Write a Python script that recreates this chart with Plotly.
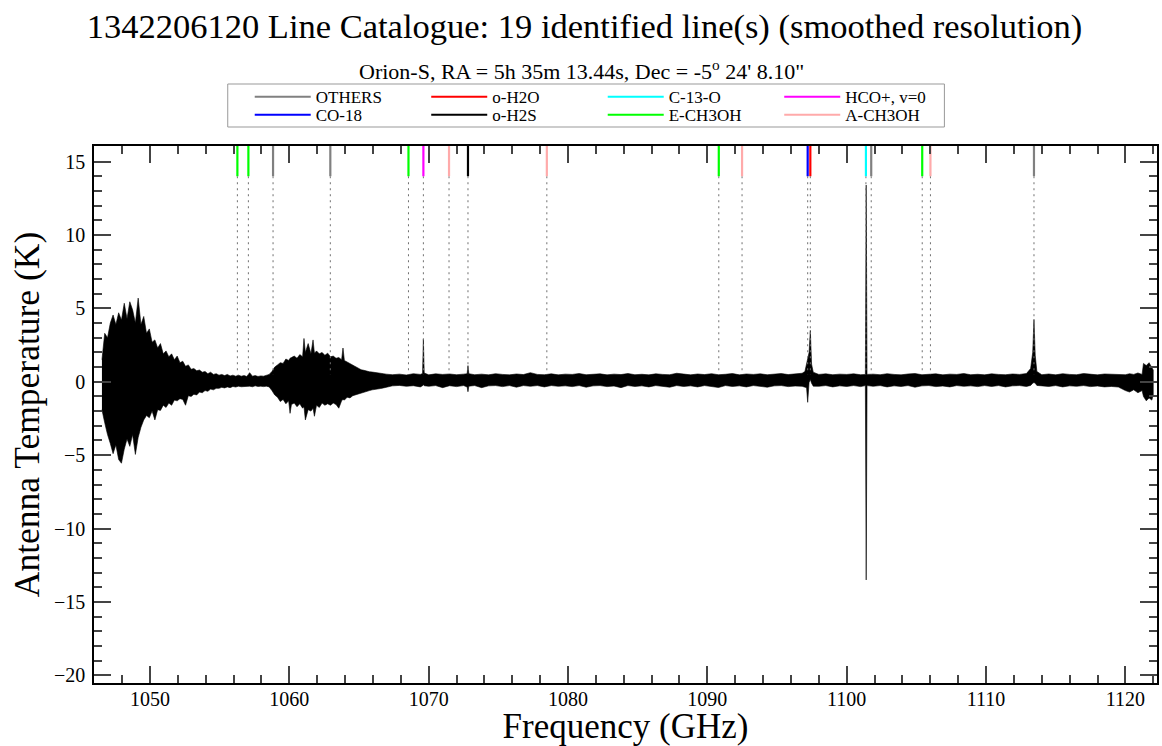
import plotly.graph_objects as go

FONT = "Liberation Serif"

# ---------------- spectrum (envelope of the smoothed spectrum, K) ----------------
freq_ghz = [
    1046.55, 1046.75, 1046.95, 1047.15, 1047.35, 1047.55, 1047.75, 1047.95, 1048.15, 1048.35,
    1048.55, 1048.75, 1048.95, 1049.15, 1049.35, 1049.55, 1049.75, 1049.95, 1050.15, 1050.35,
    1050.55, 1050.75, 1050.95, 1051.15, 1051.35, 1051.55, 1051.75, 1051.95, 1052.15, 1052.35,
    1052.55, 1052.75, 1052.95, 1053.15, 1053.35, 1053.55, 1053.75, 1053.95, 1054.15, 1054.35,
    1054.55, 1054.75, 1054.95, 1055.15, 1055.35, 1055.55, 1055.75, 1055.95, 1056.15, 1056.35,
    1056.55, 1056.75, 1056.95, 1057.15, 1057.35, 1057.55, 1057.75, 1057.95, 1058.15, 1058.35,
    1058.55,
    1058.75, 1058.95, 1059.15, 1059.35, 1059.55, 1059.75, 1059.95, 1060.05, 1060.15, 1060.35,
    1060.55, 1060.75, 1060.95, 1061.05, 1061.15, 1061.35, 1061.55, 1061.70, 1061.80, 1061.95,
    1062.15, 1062.35, 1062.55, 1062.75, 1062.95, 1063.15, 1063.35, 1063.55, 1063.75, 1063.85,
    1063.95, 1064.15, 1064.35, 1064.55, 1064.75, 1064.95, 1065.15, 1065.35, 1065.55, 1065.75,
    1065.95, 1066.15, 1066.35, 1066.55, 1066.75, 1066.95, 1067.15,
    1067.40, 1067.90, 1068.40, 1068.90, 1069.40, 1069.56, 1069.62, 1069.68, 1070.00, 1070.50,
    1071.00, 1071.50, 1072.00, 1072.50, 1072.76, 1072.82, 1072.88,
    1073.30, 1073.80, 1074.30, 1074.80, 1075.30, 1075.80, 1076.30, 1076.80, 1077.30, 1077.80,
    1078.30, 1078.80, 1079.30, 1079.80, 1080.30, 1080.80, 1081.30, 1081.80, 1082.30, 1082.80,
    1083.30, 1083.80, 1084.30, 1084.80, 1085.30, 1085.80, 1086.30, 1086.80, 1087.30, 1087.80,
    1088.30, 1088.80, 1089.30, 1089.80, 1090.30, 1090.80, 1091.30, 1091.80, 1092.30, 1092.80,
    1093.30, 1093.80, 1094.30, 1094.80, 1095.30, 1095.80, 1096.30, 1096.80,
    1097.00, 1097.12, 1097.20, 1097.30, 1097.39, 1097.48, 1097.60,
    1098.00, 1098.50, 1099.00, 1099.50, 1100.00, 1100.50, 1101.00, 1101.34, 1101.40, 1101.46,
    1101.90, 1102.40, 1102.90, 1103.40, 1103.90, 1104.40, 1104.90, 1105.40, 1105.90, 1106.40,
    1106.90, 1107.40, 1107.90, 1108.40, 1108.90, 1109.40, 1109.90, 1110.40, 1110.90, 1111.40,
    1111.90, 1112.40, 1112.90,
    1113.20, 1113.35, 1113.44, 1113.53, 1113.65,
    1114.00, 1114.50, 1115.00, 1115.50, 1116.00, 1116.50, 1117.00, 1117.50, 1118.00, 1118.50,
    1119.00, 1119.50, 1120.00, 1120.30, 1120.60, 1120.90, 1121.20, 1121.30, 1121.50, 1121.70,
    1121.90, 1122.00,
]

t_upper = [
    1.50, 3.30, 3.00, 4.00, 4.55, 3.90, 4.70, 4.20, 5.35, 4.30,
    5.45, 4.90, 4.00, 5.70, 3.90, 4.45, 3.30, 3.60, 2.70, 2.85,
    2.30, 2.60, 1.90, 2.10, 1.70, 1.90, 1.50, 1.75, 1.30, 1.40,
    1.05, 1.15, 0.85, 0.90, 0.75, 0.80, 0.65, 0.70, 0.55, 0.65,
    0.50, 0.55, 0.45, 0.50, 0.42, 0.50, 0.40, 0.45, 0.38, 0.45,
    0.38, 0.42, 0.36, 0.62, 0.38, 0.42, 0.36, 0.40, 0.38, 0.42,
    0.50,
    0.70, 1.00, 1.15, 1.30, 1.25, 1.55, 1.45, 1.60, 1.65, 1.75,
    1.60, 1.85, 1.70, 2.95, 2.00, 2.60, 1.90, 2.85, 1.95, 2.10,
    1.90, 2.00, 1.80, 1.95, 1.70, 1.75, 1.60, 1.65, 1.50, 2.30,
    1.45, 1.35, 1.25, 1.10, 1.00, 0.90, 0.82, 0.78, 0.72, 0.68,
    0.66, 0.62, 0.60, 0.58, 0.55, 0.52, 0.50,
    0.48, 0.52, 0.46, 0.55, 0.50, 0.56, 2.90, 0.60, 0.47, 0.54,
    0.50, 0.53, 0.48, 0.52, 0.55, 1.10, 0.55,
    0.48, 0.52, 0.47, 0.55, 0.50, 0.47, 0.53, 0.49, 0.62, 0.50,
    0.48, 0.54, 0.47, 0.52, 0.50, 0.56, 0.48, 0.51, 0.54, 0.47,
    0.52, 0.49, 0.56, 0.48, 0.51, 0.47, 0.54, 0.50, 0.48, 0.58,
    0.50, 0.47, 0.53, 0.49, 0.55, 0.48, 0.51, 0.56, 0.47, 0.53,
    0.50, 0.54, 0.48, 0.52, 0.56, 0.49, 0.53, 0.58,
    0.70, 1.20, 1.50, 2.00, 3.50, 1.20, 0.65,
    0.50, 0.54, 0.48, 0.52, 0.50, 0.54, 0.48, 0.50, 13.40, 0.50,
    0.52, 0.48, 0.55, 0.50, 0.47, 0.53, 0.56, 0.48, 0.51, 0.54,
    0.47, 0.52, 0.50, 0.56, 0.48, 0.51, 0.47, 0.54, 0.50, 0.48,
    0.53, 0.50, 0.56,
    0.90, 2.00, 4.25, 1.80, 0.70,
    0.48, 0.53, 0.47, 0.55, 0.50, 0.48, 0.56, 0.51, 0.47, 0.53,
    0.50, 0.47, 0.48, 0.55, 0.50, 0.60, 0.50, 1.25, 1.10, 1.30,
    1.00, 0.80,
]

t_lower = [
    -1.90, -2.80, -3.60, -4.20, -4.90, -4.30, -5.30, -5.55, -4.60, -3.90,
    -4.40, -3.60, -4.95, -3.80, -3.10, -2.60, -2.30, -2.45, -2.00, -2.60,
    -1.90, -1.95, -1.60, -1.75, -1.45, -1.60, -1.25, -1.30, -1.15, -1.20,
    -1.60, -0.95, -1.00, -0.85, -0.90, -0.70, -0.75, -0.60, -0.65, -0.50,
    -0.55, -0.45, -0.45, -0.38, -0.42, -0.35, -0.40, -0.32, -0.36, -0.30,
    -0.34, -0.30, -0.32, -0.30, -0.34, -0.28, -0.32, -0.30, -0.33, -0.30,
    -0.35,
    -0.60, -0.90, -1.05, -1.35, -1.20, -1.50, -1.30, -2.15, -1.55, -1.45,
    -1.70, -1.50, -1.80, -1.70, -2.60, -1.90, -2.00, -1.80, -2.35, -1.60,
    -1.75, -1.45, -1.60, -1.50, -1.60, -1.45, -1.55, -1.80, -1.30, -1.20,
    -1.25, -1.05, -1.10, -0.95, -0.90, -0.85, -0.78, -0.70, -0.65, -0.60,
    -0.55, -0.50, -0.48, -0.46, -0.42, -0.38, -0.35,
    -0.28, -0.25, -0.31, -0.27, -0.35, -0.27, -0.20, -0.27, -0.31, -0.26,
    -0.40, -0.27, -0.33, -0.26, -0.35, -0.68, -0.30,
    -0.26, -0.40, -0.28, -0.26, -0.33, -0.26, -0.37, -0.26, -0.31, -0.26,
    -0.35, -0.26, -0.31, -0.28, -0.33, -0.26, -0.37, -0.28, -0.26, -0.33,
    -0.29, -0.40, -0.26, -0.32, -0.28, -0.35, -0.26, -0.31, -0.37, -0.26,
    -0.32, -0.28, -0.35, -0.26, -0.31, -0.39, -0.26, -0.32, -0.28, -0.35,
    -0.26, -0.31, -0.37, -0.28, -0.26, -0.33, -0.29, -0.31,
    -0.35, -0.40, -1.40, -0.05, 0.15, -0.10, -0.30,
    -0.31, -0.26, -0.35, -0.28, -0.32, -0.26, -0.33, -0.26, -13.50, -0.26,
    -0.31, -0.26, -0.35, -0.28, -0.32, -0.26, -0.37, -0.28, -0.26, -0.33,
    -0.29, -0.35, -0.26, -0.31, -0.28, -0.33, -0.26, -0.32, -0.26, -0.35,
    -0.28, -0.26, -0.32,
    -0.25, -0.10, -0.05, -0.10, -0.25,
    -0.26, -0.32, -0.26, -0.35, -0.28, -0.31, -0.26, -0.33, -0.29, -0.35,
    -0.32, -0.36, -0.60, -0.70, -0.55, -0.75, -0.60, -1.00, -1.30, -1.10,
    -1.25, -0.90,
]

assert len(freq_ghz) == len(t_upper) == len(t_lower)

# ---------------- identified lines ----------------
line_freqs = [1056.27, 1057.06, 1058.83, 1062.94, 1068.55, 1069.62, 1071.46, 1072.82, 1078.48,
              1090.82, 1092.49, 1097.20, 1097.39, 1101.38, 1101.76, 1105.42, 1106.01, 1113.44]
line_species = ["E-CH3OH", "E-CH3OH", "OTHERS", "OTHERS", "E-CH3OH", "HCO+, v=0", "A-CH3OH",
                "o-H2S", "A-CH3OH", "E-CH3OH", "A-CH3OH", "CO-18", "o-H2O", "C-13-O",
                "OTHERS", "E-CH3OH", "A-CH3OH", "OTHERS"]

legend_row1 = ["OTHERS", "o-H2O", "C-13-O", "HCO+, v=0"]
legend_row2 = ["CO-18", "o-H2S", "E-CH3OH", "A-CH3OH"]
species_colors = {
    "OTHERS": "#808080", "CO-18": "#0000ff", "o-H2O": "#ff0000", "o-H2S": "#000000",
    "C-13-O": "#00ffff", "E-CH3OH": "#00ff00", "HCO+, v=0": "#ff00ff", "A-CH3OH": "#ffaaaa",
}

x_range = [1045.98, 1122.27]
y_range = [-20.52, 16.06]
mark_bottom = 14.0   # lower end of the coloured line markers (K)
dot_bottom = 0.5     # lower end of the dotted guide lines (K)

fig = go.Figure()

# spectrum as a filled band between the upper and lower envelopes
fig.add_trace(go.Scatter(
    x=freq_ghz + freq_ghz[::-1],
    y=t_upper + t_lower[::-1],
    mode="lines", fill="toself", fillcolor="black",
    line=dict(color="black", width=0.6),
    showlegend=False, hoverinfo="skip",
))

# dotted guide lines
dx, dy = [], []
for f in line_freqs:
    dx += [f, f, None]
    dy += [mark_bottom, dot_bottom, None]
fig.add_trace(go.Scatter(x=dx, y=dy, mode="lines",
                         line=dict(color="#707070", width=1, dash="2px,4px"),
                         showlegend=False, hoverinfo="skip"))

# coloured markers, one trace per species (also the legend entries)
for legname, row in (("legend", legend_row1), ("legend2", legend_row2)):
    for sp in row:
        mx, my = [], []
        for f, s in zip(line_freqs, line_species):
            if s == sp:
                mx += [f, f, None]
                my += [y_range[1], mark_bottom, None]
        fig.add_trace(go.Scatter(x=mx, y=my, mode="lines", name=sp, legend=legname,
                                 line=dict(color=species_colors[sp], width=2.2),
                                 hoverinfo="skip"))

axis_common = dict(
    showgrid=False, zeroline=False, showline=True, linecolor="black", linewidth=1.5,
    mirror="ticks", ticks="inside", ticklen=17, tickwidth=1.5, tickcolor="#444",
    tickfont=dict(family=FONT, size=20, color="black"),
)

legend_common = dict(
    orientation="h", xanchor="left", yanchor="top", x=0.1465,
    font=dict(family=FONT, size=17, color="black"),
    entrywidth=105.5, entrywidthmode="pixels", itemwidth=56,
    bgcolor="rgba(0,0,0,0)", borderwidth=0, tracegroupgap=0,
)

fig.update_layout(
    width=1162, height=746,
    margin=dict(l=94, r=3, t=146, b=63),
    paper_bgcolor="white", plot_bgcolor="white",
    font=dict(family=FONT, color="black"),
    title=dict(text="1342206120 Line Catalogue: 19 identified line(s) (smoothed resolution)",
               x=0.503, xanchor="center", y=1 - 26 / 746, yanchor="middle",
               font=dict(family=FONT, size=34.5, color="black")),
    xaxis=dict(range=x_range, tick0=1050, dtick=10, ticklabelstandoff=-3,
               minor=dict(dtick=2, ticks="inside", ticklen=8.5, tickwidth=1.5, tickcolor="#444"),
               title=dict(text="Frequency (GHz)", font=dict(family=FONT, size=35, color="black"),
                          standoff=6),
               **axis_common),
    yaxis=dict(range=y_range, tick0=0, dtick=5, ticklabelstandoff=3,
               minor=dict(dtick=1, ticks="inside", ticklen=8.5, tickwidth=1.5, tickcolor="#444"),
               title=dict(text="Antenna Temperature (K)",
                          font=dict(family=FONT, size=35.5, color="black"), standoff=4),
               **axis_common),
    legend=dict(y=1.1244, **legend_common),
    legend2=dict(y=1.0909, **legend_common),
    shapes=[dict(type="rect", xref="paper", yref="paper",
                 x0=(228 - 94) / 1065, x1=(946 - 94) / 1065,
                 y0=(683 - 127) / 537, y1=(683 - 84) / 537,
                 line=dict(color="#999999", width=1), fillcolor="rgba(0,0,0,0)")],
    annotations=[dict(text="Orion-S, RA = 5h 35m 13.44s, Dec = -5<sup>o</sup> 24' 8.10\"",
                      xref="paper", yref="paper", x=(582 - 94) / 1065, y=(683 - 70) / 537,
                      xanchor="center", yanchor="middle", showarrow=False,
                      font=dict(family=FONT, size=22, color="black"))],
)

fig.write_html("out.html")
